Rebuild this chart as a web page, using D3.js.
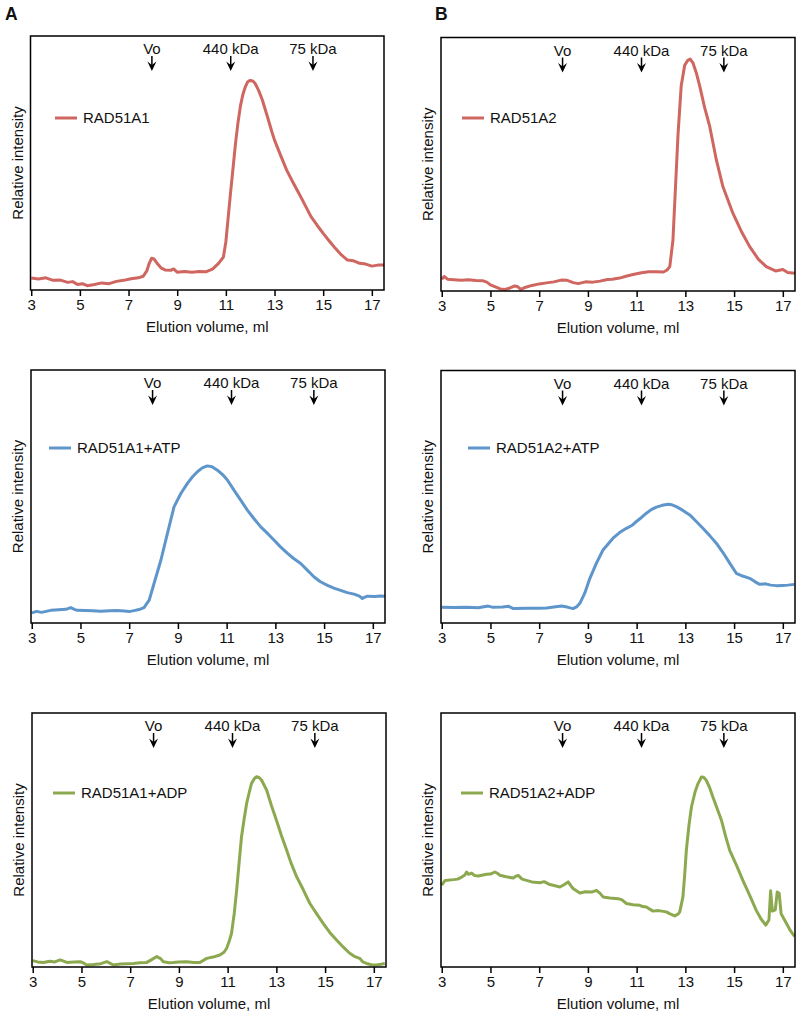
<!DOCTYPE html>
<html><head><meta charset="utf-8">
<script src="https://cdn.jsdelivr.net/npm/d3@7"></script>
<style>
html,body{margin:0;padding:0;background:#fff;}
svg text{font-family:"Liberation Sans",Arial,Helvetica,sans-serif;fill:#111;}
</style></head>
<body><svg id="c" width="800" height="1017"></svg>
<script>
// ---------- data ----------
const xTicks = [3,5,7,9,11,13,15,17];
const markerNames = ["Vo","440 kDa","75 kDa"];
const markerVols = [7.96, 11.2, 14.58];
const seriesNames = ["RAD51A1","RAD51A2","RAD51A1+ATP","RAD51A2+ATP","RAD51A1+ADP","RAD51A2+ADP"];
const panelLetters = ["A","B"];

const volA1 = [3.0,3.3,3.6,3.9,4.2,4.5,4.7,4.9,5.1,5.3,5.6,5.9,6.2,6.5,6.8,7.1,7.4,7.6,7.75,7.85,7.95,8.05,8.2,8.35,8.5,8.75,8.85,9.0,9.3,9.6,9.9,10.2,10.45,10.7,10.9,11.0,11.1,11.2,11.3,11.4,11.5,11.6,11.7,11.8,11.9,12.0,12.1,12.2,12.35,12.5,12.7,12.9,13.0,13.25,13.5,13.75,14.0,14.25,14.5,14.75,15.0,15.25,15.5,15.75,16.0,16.25,16.5,16.75,17.0,17.25,17.5];
const intA1 = [4.7,4.3,4.8,3.8,3.9,3.0,3.3,2.2,2.5,1.7,2.2,2.8,2.5,3.4,3.8,4.4,4.8,5.4,7.5,10.5,12.5,12.2,10.2,8.6,7.9,7.8,8.3,7.0,7.3,7.0,7.3,7.2,8.2,10.5,13,19,29,39,48.5,58,66,72.5,77,80,82,82.5,82.3,81.4,78.5,74.8,68.5,62,59,53,47.2,42.5,38.1,33.5,28.9,25.5,22.3,19.3,16.4,13.8,11.8,11.5,10.5,10.2,9.4,9.8,9.8];

const volA2 = [3.0,3.1,3.25,3.5,3.8,4.1,4.4,4.7,4.85,5.0,5.2,5.4,5.6,5.8,6.0,6.1,6.25,6.45,6.7,7.0,7.3,7.6,7.9,8.15,8.4,8.6,8.9,9.2,9.5,9.8,10.0,10.3,10.6,10.9,11.2,11.5,11.8,12.1,12.25,12.36,12.49,12.6,12.7,12.83,12.97,13.1,13.2,13.31,13.45,13.59,13.8,14.0,14.27,14.54,14.95,15.3,15.64,16.0,16.32,16.7,17.0,17.2,17.5];
const intA2 = [4.6,5.7,4.6,4.4,4.2,4.4,4.1,4.0,3.5,2.4,1.6,0.8,0.6,1.2,2.0,1.8,0.6,1.5,2.2,2.8,3.2,3.6,4.3,4.2,3.3,2.9,3.6,3.5,3.9,4.5,4.6,5.1,5.9,6.6,7.2,7.6,7.6,7.5,8.3,9.6,20,42,62,81,89,91,91.5,90,86,80.8,72,64.9,51.8,41.2,30.7,23.5,17.5,12.5,9.6,7.9,8.5,7.3,7.0];

const volA1ATP = [3.0,3.2,3.4,3.78,4.1,4.4,4.6,4.75,4.87,5.2,5.5,5.83,6.2,6.5,6.8,7.0,7.2,7.4,7.61,7.82,8.02,8.3,8.57,8.84,9.12,9.39,9.6,9.8,10.0,10.21,10.4,10.62,10.85,11.03,11.3,11.55,11.85,12.1,12.4,12.7,12.95,13.2,13.5,13.75,14.04,14.3,14.59,14.85,15.14,15.4,15.68,15.95,16.23,16.45,16.57,16.7,16.78,17.1,17.3,17.5];
const intA1ATP = [4.0,4.6,4.2,5.0,5.2,5.4,6.1,5.4,5.0,4.9,4.8,4.6,4.8,4.9,4.7,4.5,4.9,5.3,6.1,9.0,15.6,24.8,35.4,45.9,51.2,55.2,57.8,59.8,61.3,62.1,61.8,60.4,58.5,56.5,52.5,49,44.6,41.5,38.0,35.2,32.7,30.2,27.5,25.5,23.5,21,18.2,16.3,14.9,13.8,12.9,12.0,11.4,10.6,9.7,10.3,10.6,10.5,10.7,10.6];

const volA2ATP = [3.0,3.5,4.02,4.5,4.91,5.1,5.5,5.75,5.94,6.5,7.0,7.3,7.6,7.92,8.15,8.39,8.55,8.67,8.87,9.08,9.35,9.62,10.03,10.3,10.58,10.8,10.99,11.2,11.4,11.6,11.81,12.05,12.29,12.45,12.63,12.9,13.18,13.45,13.72,14.0,14.27,14.55,14.82,15.09,15.35,15.64,15.85,16.05,16.3,16.5,16.73,17.0,17.2,17.48];
const intA2ATP = [6.2,6.1,6.2,6.0,6.7,6.2,6.3,6.6,5.7,5.8,5.8,5.9,6.3,6.7,6.3,5.7,6.5,7.8,11.8,17.7,23.7,28.9,33.6,35.8,37.5,38.6,40.2,41.8,43.5,44.9,45.9,46.6,47.0,46.8,46.1,44.6,42.8,40.2,37.5,34.6,31.6,27.8,23.7,19.7,18.6,17.7,16.4,15.3,15.5,15.0,14.8,14.9,15.0,15.3];

const volA1ADP = [3.0,3.2,3.44,3.7,3.9,4.13,4.4,4.7,4.95,5.1,5.22,5.5,5.8,6.04,6.31,6.6,6.9,7.13,7.4,7.68,7.9,8.09,8.25,8.36,8.6,8.77,9.0,9.32,9.6,9.86,10.14,10.4,10.68,10.85,10.96,11.06,11.16,11.27,11.37,11.47,11.57,11.68,11.78,11.88,11.98,12.1,12.19,12.3,12.39,12.6,12.8,13.0,13.2,13.42,13.6,13.83,14.1,14.37,14.65,14.92,15.2,15.47,15.75,16.01,16.2,16.42,16.55,16.7,16.9,17.1,17.3,17.45];
const intA1ADP = [2.5,2.0,1.8,2.3,2.0,2.8,1.8,2.0,2.1,1.5,0.8,1.0,1.3,2.1,0.8,1.2,1.3,1.4,1.7,1.8,3.0,4.1,3.3,2.1,1.7,1.8,2.0,2.1,1.8,1.8,3.4,3.9,4.7,5.8,7.4,10,13.3,21,30.3,41,51.3,58.5,64.4,68.5,72.3,74.2,74.9,74.5,73.6,69.7,63.5,57.9,52,46.1,41,35.6,30.5,25.1,21,17.2,13.5,10.6,7.8,5.4,4.2,3.4,2.0,1.4,0.9,0.8,1.1,1.4];

const volA2ADP = [3.0,3.14,3.48,3.65,3.82,3.95,4.02,4.1,4.23,4.35,4.5,4.84,5.0,5.18,5.3,5.39,5.6,5.94,6.05,6.14,6.3,6.48,6.7,7.03,7.2,7.4,7.57,7.85,8.0,8.19,8.3,8.39,8.67,8.9,9.15,9.35,9.5,9.62,9.9,10.24,10.4,10.58,10.85,11.13,11.25,11.4,11.67,11.9,12.22,12.35,12.56,12.7,12.77,12.9,12.97,13.04,13.15,13.25,13.4,13.52,13.66,13.75,13.86,14.0,14.13,14.3,14.48,14.65,14.82,15.1,15.36,15.65,15.91,16.1,16.3,16.43,16.5,16.57,16.69,16.77,16.85,16.93,17.1,17.3,17.48];
const intA2ADP = [32.2,34.1,34.4,34.6,35.4,36.2,37.4,36.5,37.0,36.0,35.8,36.5,36.6,37.4,36.8,36.1,35.6,35.0,35.8,36.1,34.6,34.1,33.5,33.2,33.6,32.6,32.2,31.5,32.3,33.5,32.0,30.9,29.1,29.6,29.5,30.2,29.0,27.6,27.2,26.9,26.4,25.0,24.5,24.3,23.8,23.6,22.0,22.2,21.7,21.0,20.1,20.8,21.7,27.6,36,45.9,56,63.0,69,72.2,74.8,74.7,73.5,70.5,66.9,62.5,57.8,51.5,45.9,40,34.1,28,22.3,19,16.5,18.5,30,22,22.5,29.5,29,21,18,14.5,12];

const seriesVols = [volA1, volA2, volA1ATP, volA2ATP, volA1ADP, volA2ADP];
const seriesInts = [intA1, intA2, intA1ATP, intA2ATP, intA1ADP, intA2ADP];

// ---------- layout / style ----------
const colors = ["#cf6660","#cf6660","#5e96cb","#5e96cb","#8ca94f","#8ca94f"];
const boxes = [
  {l:30.5,t:36,r:384,b:290, lx:55, ly:118},
  {l:441,t:37.5,r:795,b:291, lx:462, ly:118},
  {l:31,t:370,r:385,b:623, lx:49, ly:448},
  {l:441,t:370.5,r:795,b:623, lx:468, ly:448},
  {l:32,t:713,r:386,b:967, lx:53, ly:793},
  {l:441,t:713,r:795,b:967, lx:461, ly:793}
];
const FS = 15;
const svg = d3.select("#c");

svg.append("text").attr("x",5).attr("y",20).attr("font-size",17.5).attr("font-weight","bold").text(panelLetters[0]);
svg.append("text").attr("x",435).attr("y",20).attr("font-size",17.5).attr("font-weight","bold").text(panelLetters[1]);

boxes.forEach((bx,i)=>{
  const x = d3.scaleLinear().domain([2.97,17.5]).range([bx.l,bx.r]);
  const y = d3.scaleLinear().domain([0,100]).range([bx.b,bx.t]);
  const g = svg.append("g");

  const pts = seriesVols[i].map((v,k)=>[v, seriesInts[i][k]]);
  g.append("path").datum(pts)
    .attr("d", d3.line().x(d=>x(d[0])).y(d=>y(d[1])))
    .attr("fill","none").attr("stroke",colors[i]).attr("stroke-width",3)
    .attr("stroke-linejoin","round");

  g.append("rect").attr("x",bx.l).attr("y",bx.t).attr("width",bx.r-bx.l).attr("height",bx.b-bx.t)
    .attr("fill","none").attr("stroke","#000").attr("stroke-width",1.5);

  const ax = g.append("g").attr("transform",`translate(0,${bx.b})`)
    .call(d3.axisBottom(x).tickValues(xTicks).tickSize(6).tickPadding(3).tickFormat(d3.format("d")));
  ax.select(".domain").remove();
  ax.selectAll(".tick line").attr("stroke","#000").attr("stroke-width",1.5);
  ax.selectAll(".tick text").attr("font-size",FS).attr("font-family","Liberation Sans, Arial, sans-serif").attr("fill","#111");

  g.append("text").attr("x",(bx.l+bx.r)/2).attr("y",bx.b+42).attr("text-anchor","middle")
    .attr("font-size",FS).text("Elution volume, ml");

  g.append("text").attr("transform",`translate(${bx.l-8},${(bx.t+bx.b)/2}) rotate(-90)`)
    .attr("text-anchor","middle").attr("font-size",FS).text("Relative intensity");

  markerVols.forEach((mv,j)=>{
    const mx = x(mv);
    g.append("text").attr("x",mx).attr("y",bx.t+18).attr("text-anchor","middle")
      .attr("font-size",FS).text(markerNames[j]);
    g.append("line").attr("x1",mx).attr("x2",mx).attr("y1",bx.t+20).attr("y2",bx.t+31)
      .attr("stroke","#000").attr("stroke-width",1.5);
    g.append("path").attr("d",`M${mx-4.5},${bx.t+25.5} L${mx},${bx.t+35} L${mx+4.5},${bx.t+25.5} L${mx},${bx.t+29} Z`)
      .attr("fill","#000");
  });

  g.append("line").attr("x1",bx.lx).attr("x2",bx.lx+22).attr("y1",bx.ly).attr("y2",bx.ly)
    .attr("stroke",colors[i]).attr("stroke-width",3);
  g.append("text").attr("x",bx.lx+28).attr("y",bx.ly+5).attr("font-size",FS).text(seriesNames[i]);
});
</script></body></html>
